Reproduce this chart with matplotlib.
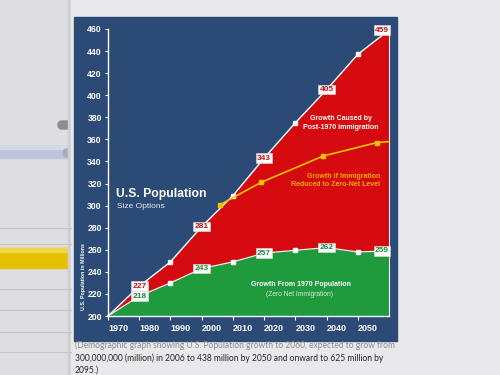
import matplotlib.pyplot as plt
import matplotlib.transforms as mtransforms
from matplotlib.patches import Rectangle, FancyBboxPatch

# data
years = [1970, 1980, 1990, 2000, 2010, 2020, 2030, 2040, 2050, 2060]
total = [200, 227, 249, 281, 309, 343, 375, 405, 437, 459]
from_1970 = [200, 218, 230, 243, 249, 257, 259.5, 262, 258, 259]
zero_net_years = [2006, 2019, 2039, 2056, 2060]
zero_net = [301, 321, 345, 357, 358]
labeled = [1, 3, 5, 7, 9]
xtick_years = [1970, 1980, 1990, 2000, 2010, 2020, 2030, 2040, 2050]
yticks = list(range(200, 461, 20))

W, H = 500, 375
fig = plt.figure(figsize=(5, 3.75), dpi=100, facecolor='#e7e6e8')

def fx(x):
    return x / W

def fy(y):
    return 1 - y / H

# background (photo of a screen + page), pixel coordinates
bg = fig.add_axes([0, 0, 1, 1], zorder=-5)
bg.set_xlim(0, W)
bg.set_ylim(H, 0)
bg.axis('off')
bg.add_patch(Rectangle((0, 0), 71, H, color='#dedde1'))
bg.add_patch(Rectangle((0, 146), 71, 12, color='#bcc5dc'))
bg.add_patch(Rectangle((0, 146), 71, 3, color='#d3d9e8'))
bg.add_patch(Rectangle((0, 248), 71, 20, color='#e6c000'))
bg.add_patch(Rectangle((0, 248), 71, 4, color='#efd64a'))
for yl in [228, 244, 289, 310, 332, 352]:
    bg.plot([0, 71], [yl, yl], color='#c5c4ca', lw=0.8)
bg.add_patch(FancyBboxPatch((58, 121), 14, 8, boxstyle='round,pad=0,rounding_size=4',
                            color='#8e8e90'))
bg.add_patch(FancyBboxPatch((63, 149), 10, 8, boxstyle='round,pad=0,rounding_size=4',
                            color='#a9adb8'))
bg.add_patch(Rectangle((68, 0), 4, H, color='#cfcfd2'))
bg.add_patch(Rectangle((71, 0), W - 71, H, color='#e9e8ea'))
bg.add_patch(Rectangle((74, 17), 323, 324, color='#2c4a76'))

# chart
ax = fig.add_axes([fx(108), fy(316), (389 - 108) / W, (316 - 29) / H])
ax.set_facecolor('none')
ax.set_xlim(1970, 2060)
ax.set_ylim(200, 460)

ax.fill_between(years, from_1970, total, color='#d40a0f', lw=0)
ax.fill_between(years, 200, from_1970, color='#1f9a3c', lw=0)
ax.plot(years, total, color='white', lw=1.0, clip_on=False)
ax.plot(years, from_1970, color='#eef3ee', lw=0.9, clip_on=False)
ax.plot([2060, 2060], [200, 459], color='#f2f2f2', lw=0.8, clip_on=False)

unl = [i for i in range(len(years)) if i not in labeled and i > 0]
ax.plot([years[i] for i in unl], [total[i] for i in unl], 's', color='white', ms=2.5)
ax.plot([years[i] for i in unl], [from_1970[i] for i in unl], 's', color='white', ms=2.5)

ax.plot(zero_net_years, zero_net, color='#f2c100', lw=1.2, clip_on=False)
ax.plot(zero_net_years[:-1], zero_net[:-1], 's', color='#f2c100', ms=3)

for i in labeled:
    ha = 'right' if i == len(years) - 1 else 'center'
    for vals, col in [(total, '#c8101c'), (from_1970, '#1a8a3a')]:
        ax.text(years[i], vals[i], str(int(vals[i])), ha=ha, va='center',
                fontsize=6, fontweight='bold', color=col, family='Liberation Sans',
                bbox=dict(boxstyle='square,pad=0.15', fc='white', ec='#dddddd', lw=0.4),
                zorder=5)

for s in ['top', 'right']:
    ax.spines[s].set_visible(False)
for s in ['left', 'bottom']:
    ax.spines[s].set_color('white')
    ax.spines[s].set_linewidth(1.0)

ax.set_yticks(yticks)
ax.set_yticklabels([str(v) for v in yticks], fontsize=6.2, fontweight='bold',
                   color='white', family='Liberation Sans')
ax.set_xticks(xtick_years)
ax.set_xticklabels([str(v) for v in xtick_years], fontsize=6.5, fontweight='bold',
                   color='white', family='Liberation Sans')
ax.tick_params(axis='y', colors='white', length=2.5, width=0.8, pad=2)
ax.tick_params(axis='x', colors='white', length=3, width=0.8, pad=3)
shift = mtransforms.ScaledTranslation(0.10, 0, fig.dpi_scale_trans)
for lab in ax.get_xticklabels():
    lab.set_transform(lab.get_transform() + shift)

# texts
fig.text(fx(116), fy(194), 'U.S. Population', fontsize=8.7, fontweight='bold',
         color='white', va='center', family='Liberation Sans')
fig.text(fx(117), fy(206), 'Size Options', fontsize=6, color='#e6e9f0',
         va='center', family='Liberation Sans')
fig.text(fx(83), fy(277), 'U.S. Population in Millions', fontsize=3.8, fontweight='bold',
         color='white', rotation=90, ha='center', va='center', family='Liberation Sans')
fig.text(fx(341), fy(123), 'Growth Caused by\nPost-1970 Immigration', fontsize=5,
         fontweight='bold', color='white', ha='center', va='center',
         linespacing=1.3, family='Liberation Sans')
fig.text(fx(380), fy(180.5), 'Growth if Immigration\nReduced to Zero-Net Level', fontsize=5,
         fontweight='bold', color='#f6a900', ha='right', va='center',
         multialignment='right', linespacing=1.3, family='Liberation Sans')
fig.text(fx(301), fy(284), 'Growth From 1970 Population', fontsize=5,
         fontweight='bold', color='white', ha='center', va='center', family='Liberation Sans')
fig.text(fx(300), fy(295), '(Zero Net Immigration)', fontsize=4.8,
         color='#d9ead9', ha='center', va='center', family='Liberation Sans')

# caption under the panel
fig.text(fx(75), fy(345), '(Demographic graph showing U.S. Population growth to 2060, expected to grow from',
         fontsize=6.15, color='#8c8c8e', va='center', family='Lato')
fig.text(fx(75), fy(358), '300,000,000 (million) in 2006 to 438 million by 2050 and onward to 625 million by',
         fontsize=6.15, color='#262626', va='center', family='Lato')
fig.text(fx(75), fy(370), '2095.)', fontsize=6.15, color='#262626', va='center', family='Lato')

fig.savefig('out.png', dpi=100, facecolor=fig.get_facecolor())
